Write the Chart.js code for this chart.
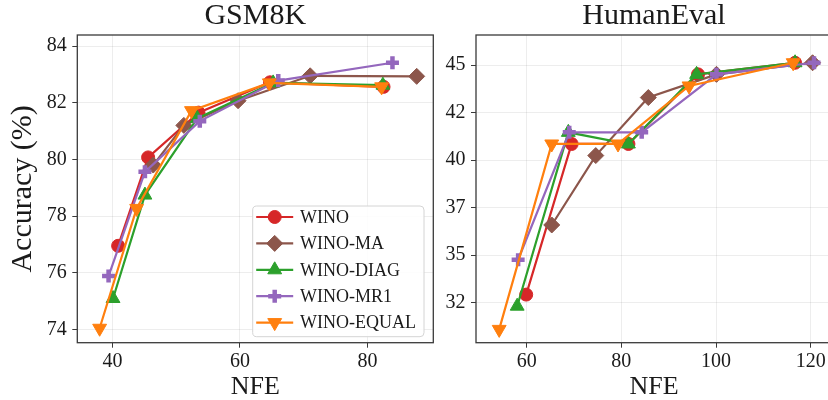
<!DOCTYPE html>
<html>
<head>
<meta charset="utf-8">
<script src="https://cdn.jsdelivr.net/npm/chart.js@4"></script>
<style>
html, body { margin: 0; padding: 0; overflow: hidden; background: #fff; }
#wrap { position: relative; width: 828px; height: 400px; overflow: hidden; }
#gsm { position: absolute; left: 0; top: 0; }
#he { position: absolute; left: 440px; top: 0; }
</style>
</head>
<body>
<div id="wrap">
<canvas id="gsm" width="440" height="400"></canvas>
<canvas id="he" width="420" height="400"></canvas>
</div>
<script>
// series order: WINO, WINO-MA, WINO-DIAG, WINO-MR1, WINO-EQUAL
const seriesNames = ['WINO', 'WINO-MA', 'WINO-DIAG', 'WINO-MR1', 'WINO-EQUAL'];

// GSM8K: NFE and accuracy per series
const gsmNfe = [
    [40.9, 45.6, 53.5, 64.7, 82.5],
    [46.4, 51.2, 59.7, 71.0, 87.7],
    [40.1, 45.1, 53.3, 65.2, 82.4],
    [39.4, 45.1, 53.7, 66.0, 83.9],
    [38.0, 43.8, 52.4, 64.6, 82.2]
];
const gsmAcc = [
    [76.95, 80.07, 81.65, 82.72, 82.56],
    [79.80, 81.20, 82.07, 82.95, 82.93],
    [75.09, 78.74, 81.45, 82.70, 82.62],
    [75.88, 79.56, 81.35, 82.78, 83.41],
    [74.04, 78.27, 81.72, 82.70, 82.56]
];
const gsmXTicks = [40, 60, 80];
const gsmYTicks = [74, 76, 78, 80, 82, 84];

// HumanEval: NFE and accuracy per series
const heNfe = [
    [59.9, 69.5, 81.5, 96.2, 116.7],
    [65.3, 74.6, 85.7, 100.1, 120.4],
    [58.0, 68.8, 81.5, 95.9, 116.7],
    [58.2, 69.0, 84.3, 100.1, 120.7],
    [54.2, 65.3, 79.3, 94.3, 116.3]
];
const heAcc = [
    [32.93, 40.85, 40.85, 44.51, 45.12],
    [36.59, 40.24, 43.29, 44.51, 45.12],
    [32.32, 41.46, 40.85, 44.51, 45.12],
    [34.76, 41.46, 41.46, 44.51, 45.12],
    [31.10, 40.85, 40.85, 43.90, 45.12]
];
const heXTicks = [60, 80, 100, 120];
const heYTicks = [32.5, 35, 37.5, 40, 42.5, 45];
const heYLabels = ['32', '35', '37', '40', '42', '45'];

// styling
const seriesColors = ['#d62728', '#8c564b', '#2ca02c', '#9467bd', '#ff7f0e'];
const markerStyles = ['circle', 'rectRot', 'triangle', 'cross', 'triangle'];
const markerRotations = [0, 0, 0, 0, 180];
const markerRadii = [6.5, 8, 8, 6.5, 8];
const markerBorders = [1, 1, 1, 4.5, 1];
const gridColor = 'rgba(0,0,0,0.09)';
const frameColor = '#3a3a3a';
const textColor = '#1a1a1a';

Chart.defaults.font.family = "'Liberation Serif', serif";
Chart.defaults.color = textColor;

function makeDatasets(nfe, acc) {
    return seriesNames.map((name, i) => ({
        label: name,
        data: nfe[i].map((x, j) => ({x: x, y: acc[i][j]})),
        borderColor: seriesColors[i],
        backgroundColor: seriesColors[i],
        pointBackgroundColor: seriesColors[i],
        pointBorderColor: seriesColors[i],
        pointStyle: markerStyles[i],
        pointRotation: markerRotations[i],
        pointRadius: markerRadii[i],
        pointHoverRadius: markerRadii[i],
        pointBorderWidth: markerBorders[i],
        borderWidth: 2.2,
        tension: 0,
        order: seriesNames.length - i
    }));
}

// center the title over the plot area instead of the whole canvas
const titleOverAxes = {
    id: 'titleOverAxes',
    afterLayout(chart) {
        const t = chart.titleBlock;
        if (!t) return;
        t.left = chart.chartArea.left;
        t.right = chart.chartArea.right;
        t.width = t.right - t.left;
    }
};

// axes frame on top of the lines
const framePlugin = {
    id: 'frame',
    afterDatasetsDraw(chart) {
        const ctx = chart.ctx, a = chart.chartArea;
        ctx.save();
        ctx.strokeStyle = frameColor;
        ctx.lineWidth = 1.3;
        ctx.strokeRect(a.left, a.top, a.right - a.left, a.bottom - a.top);
        ctx.restore();
    }
};

// boxed legend inside the GSM8K plot
const legendPlugin = {
    id: 'boxLegend',
    afterDraw(chart) {
        const ctx = chart.ctx;
        const x0 = 252.7, y0 = 206, w = 171.3, h = 130.7;
        ctx.save();
        ctx.beginPath();
        if (ctx.roundRect) ctx.roundRect(x0, y0, w, h, 4); else ctx.rect(x0, y0, w, h);
        ctx.fillStyle = 'rgba(255,255,255,0.85)';
        ctx.fill();
        ctx.strokeStyle = '#d4d4d4';
        ctx.lineWidth = 1;
        ctx.stroke();
        chart.data.datasets.forEach((ds, i) => {
            const y = y0 + 11 + i * 26.4;
            ctx.strokeStyle = ds.borderColor;
            ctx.lineWidth = ds.borderWidth;
            ctx.beginPath();
            ctx.moveTo(x0 + 3.5, y);
            ctx.lineTo(x0 + 40.5, y);
            ctx.stroke();
            ctx.fillStyle = ds.pointBackgroundColor;
            ctx.strokeStyle = ds.pointBorderColor;
            ctx.lineWidth = ds.pointBorderWidth;
            Chart.helpers.drawPoint(ctx, {
                pointStyle: ds.pointStyle,
                rotation: ds.pointRotation,
                radius: ds.pointRadius,
                borderWidth: ds.pointBorderWidth
            }, x0 + 22, y);
            ctx.fillStyle = textColor;
            ctx.font = "18px 'Liberation Serif'";
            ctx.textBaseline = 'middle';
            ctx.textAlign = 'left';
            ctx.fillText(ds.label, x0 + 47.3, y + 1);
        });
        ctx.restore();
    }
};

function gridOpts() {
    return {color: gridColor, lineWidth: 0.8, tickLength: 5, tickColor: frameColor, tickWidth: 1};
}

// keep tick labels from pushing the plot area inwards
function noPad(s) {
    s.paddingLeft = 0;
    s.paddingRight = 0;
    s.paddingTop = 0;
    s.paddingBottom = 0;
}

function makeChart(canvasId, title, nfe, acc, xr, yr, xTicks, yTicks, yLabels, yAxisWidth, padRight, yTitle, plugins) {
    return new Chart(document.getElementById(canvasId), {
        type: 'line',
        data: {datasets: makeDatasets(nfe, acc)},
        options: {
            responsive: false,
            animation: false,
            events: [],
            layout: {autoPadding: false, padding: {left: 0, right: padRight, top: 0, bottom: 0}},
            plugins: {
                legend: {display: false},
                tooltip: {enabled: false},
                title: {
                    display: true,
                    text: title,
                    color: textColor,
                    font: {size: 30, weight: 'normal', lineHeight: 32.6 / 30},
                    padding: {top: 0, bottom: 2.4}
                }
            },
            scales: {
                x: {
                    type: 'linear',
                    min: xr[0], max: xr[1],
                    afterBuildTicks: s => { s.ticks = xTicks.map(v => ({value: v})); },
                    afterFit: s => { s.height = 57.3; noPad(s); },
                    grid: gridOpts(),
                    border: {display: false},
                    ticks: {font: {size: 20}, padding: 2, maxRotation: 0, color: textColor},
                    title: {display: true, text: 'NFE', color: textColor,
                        font: {size: 26, lineHeight: 1}, padding: {top: 0, bottom: 0}}
                },
                y: {
                    type: 'linear',
                    min: yr[0], max: yr[1],
                    afterBuildTicks: s => { s.ticks = yTicks.map(v => ({value: v})); },
                    afterFit: s => { s.width = yAxisWidth; noPad(s); },
                    grid: gridOpts(),
                    border: {display: false},
                    ticks: {
                        font: {size: 20}, padding: 5.5, color: textColor,
                        callback: v => yLabels[yTicks.indexOf(v)]
                    },
                    title: {display: !!yTitle, text: yTitle || '', color: textColor,
                        font: {size: 30, lineHeight: 1}, padding: {top: 8, bottom: 0}}
                }
            }
        },
        plugins: plugins
    });
}

makeChart('gsm', 'GSM8K', gsmNfe, gsmAcc, [34.5, 90.3], [73.53, 84.39],
    gsmXTicks, gsmYTicks, gsmYTicks.map(String), 77.3, 6.7, 'Accuracy (%)',
    [titleOverAxes, framePlugin, legendPlugin]);

// canvas runs past the page edge so the right spine is cut off, as in the original
makeChart('he', 'HumanEval', heNfe, heAcc, [49.3, 124.5], [30.4, 46.58],
    heXTicks, heYTicks, heYLabels, 36, 28, null,
    [titleOverAxes, framePlugin]);
</script>
</body>
</html>
